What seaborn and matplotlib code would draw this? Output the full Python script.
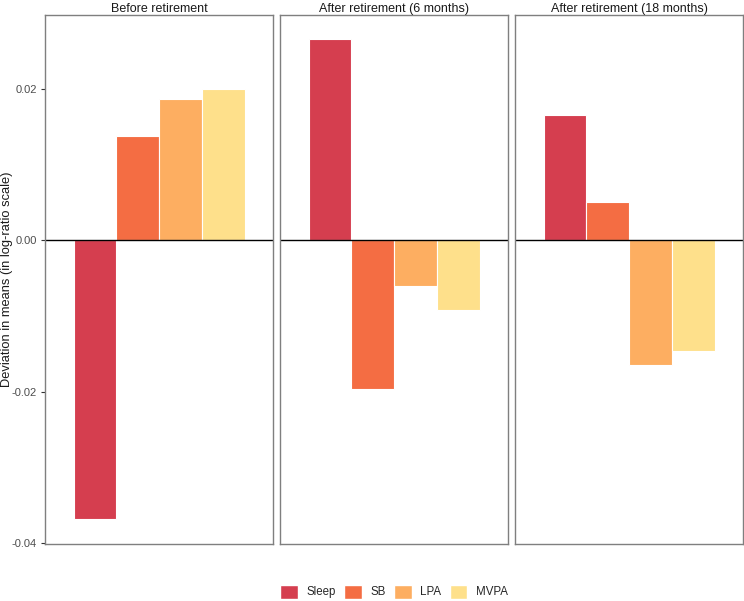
import pandas as pd
import matplotlib
matplotlib.use("Agg")
import matplotlib.pyplot as plt
import seaborn as sns
from matplotlib.patches import Patch

# valeurs
periods = ["Before retirement", "After retirement (6 months)", "After retirement (18 months)"]
activities = ["Sleep", "SB", "LPA", "MVPA"]
before = [-0.0368, 0.0138, 0.0186, 0.0200]
after6 = [0.0265, -0.0196, -0.0061, -0.0092]
after18 = [0.0165, 0.0050, -0.0165, -0.0147]
colors = ["#D53E4F", "#F46D43", "#FDAE61", "#FEE08B"]
yticks = [0.02, 0.00, -0.02, -0.04]
ytick_labels = ["0.02", "0.00", "-0.02", "-0.04"]

df = pd.DataFrame({
    "period": [p for p in periods for _ in activities],
    "activity": activities * 3,
    "value": before + after6 + after18,
})

sns.set_style("white")
plt.rcParams["font.family"] = ["Liberation Sans", "DejaVu Sans"]

W, H = 744, 601
fig = plt.figure(figsize=(W / 100, H / 100), dpi=100)
lefts = [45, 280, 515]
pw = 228
top, bottom = 15, 544

for i, p in enumerate(periods):
    ax = fig.add_axes([lefts[i] / W, 1 - bottom / H, pw / W, (bottom - top) / H])
    sub = df[df["period"] == p]
    sns.barplot(data=sub, x="period", y="value", hue="activity", hue_order=activities,
                palette=colors, saturation=1, width=0.9, ax=ax, legend=False,
                edgecolor="white", linewidth=0.8, errorbar=None)
    ax.axhline(0, color="black", lw=1)
    ax.set_xlim(-0.6, 0.6)
    ax.set_ylim(-0.0401, 0.0297)
    ax.set_xticks([])
    ax.set_xlabel("")
    ax.set_title(p, fontsize=9, color="#1A1A1A", pad=2)
    for s in ax.spines.values():
        s.set_color("#7F7F7F")
        s.set_linewidth(1)
    if i == 0:
        ax.set_yticks(yticks)
        ax.set_yticklabels(ytick_labels)
        ax.tick_params(axis="y", length=3, width=0.8, color="#333333", labelsize=8,
                       labelcolor="#4D4D4D", left=True, pad=3)
        ax.set_ylabel("Deviation in means (in log-ratio scale)", fontsize=9.3, color="#1A1A1A")
        ax.yaxis.set_label_coords(-32 / pw, 0.5)
    else:
        ax.set_yticks([])
        ax.set_ylabel("")

handles = [Patch(facecolor=c, edgecolor="white", label=a) for a, c in zip(activities, colors)]
fig.legend(handles=handles, loc="lower center", ncol=4, frameon=False,
           bbox_to_anchor=(394 / W, 0.0), fontsize=8.3, handlelength=1.5, handleheight=1.5,
           columnspacing=0.75, handletextpad=0.75, borderpad=0.1, borderaxespad=0.1)

fig.savefig("out.png", dpi=100)
